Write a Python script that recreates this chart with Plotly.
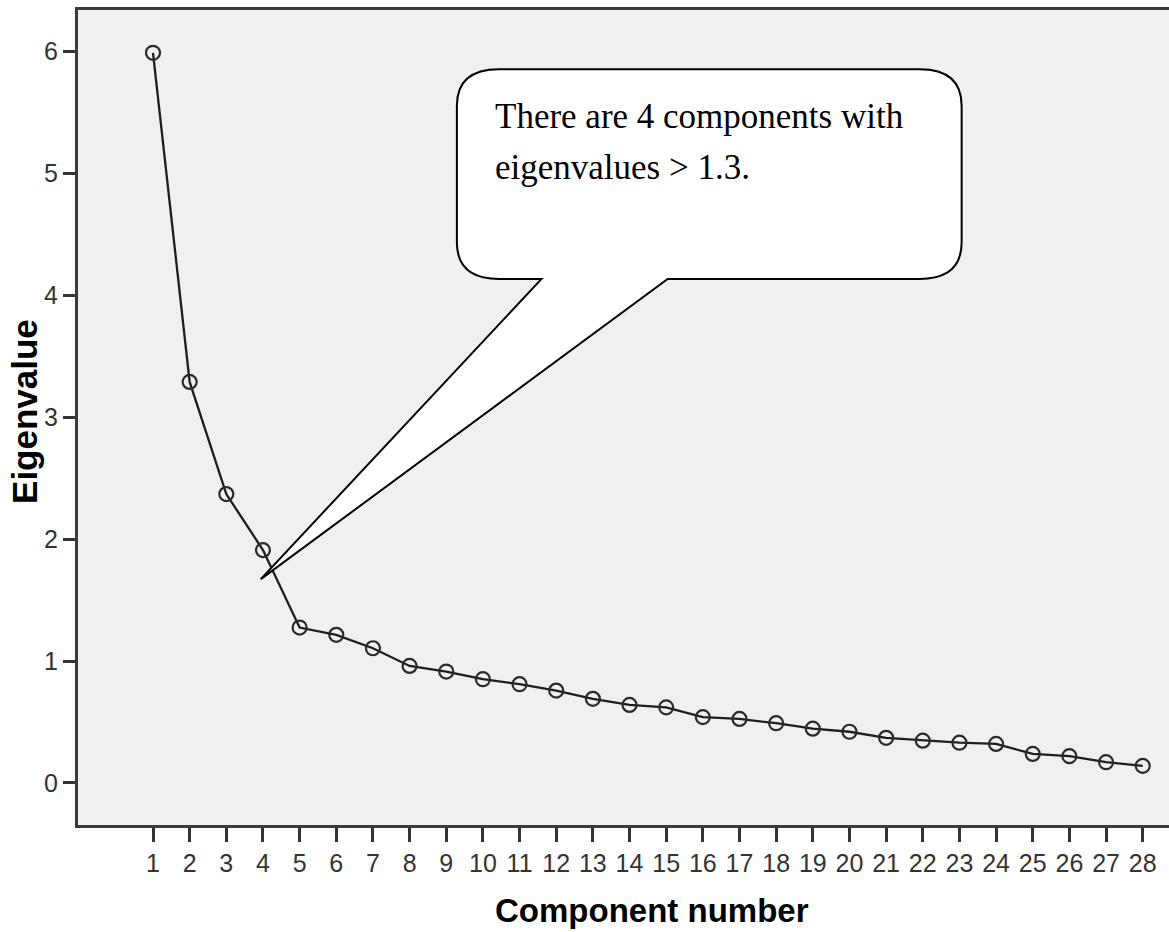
import plotly.graph_objects as go

components = list(range(1, 29))
eigenvalues = [5.99, 3.29, 2.37, 1.91, 1.275, 1.215, 1.105, 0.96, 0.914, 0.851,
               0.81, 0.758, 0.69, 0.64, 0.62, 0.54, 0.525, 0.49, 0.445, 0.42,
               0.37, 0.347, 0.33, 0.32, 0.238, 0.22, 0.17, 0.14]
y_ticks = [0, 1, 2, 3, 4, 5, 6]
callout_lines = ["There are 4 components with", "eigenvalues > 1.3."]

fig = go.Figure()
fig.add_trace(go.Scatter(
    x=components, y=eigenvalues, mode="lines+markers",
    line=dict(color="#1e1e1e", width=2.3),
    marker=dict(symbol="circle-open", size=14, color="#2a2a2a", line=dict(width=2.2)),
    showlegend=False, hoverinfo="skip",
))

# Callout bubble (rounded rectangle with a pointed tail), in data coordinates
L, R, T, B = 9.29, 23.06, 5.854, 4.135
rx, ry = 1.15, 0.30
tail_l, tail_r = 11.6, 15.04
tip_x, tip_y = 3.94, 1.672
path = (f"M {tail_l},{B} L {tip_x},{tip_y} L {tail_r},{B} L {R-rx},{B} "
        f"Q {R},{B} {R},{B+ry} L {R},{T-ry} Q {R},{T} {R-rx},{T} "
        f"L {L+rx},{T} Q {L},{T} {L},{T-ry} L {L},{B+ry} Q {L},{B} {L+rx},{B} Z")
fig.add_shape(type="path", path=path, xref="x", yref="y",
              fillcolor="white", line=dict(color="black", width=2))

serif = "Liberation Serif, Times New Roman, serif"
fig.add_annotation(x=10.28, y=5.464, xref="x", yref="y", text=callout_lines[0],
                   showarrow=False, xanchor="left", yanchor="middle",
                   font=dict(family=serif, size=35, color="black"))
fig.add_annotation(x=10.28, y=5.053, xref="x", yref="y", text=callout_lines[1],
                   showarrow=False, xanchor="left", yanchor="middle",
                   font=dict(family=serif, size=35, color="black"))

sans = "Liberation Sans, Arial, sans-serif"
narrow = "Liberation Sans Narrow, Arial Narrow, Liberation Sans, sans-serif"
fig.add_annotation(x=0.526, y=-0.1055, xref="paper", yref="paper",
                   text="<b>Component number</b>", showarrow=False,
                   xanchor="center", yanchor="middle",
                   font=dict(family=sans, size=33, color="black"))
fig.add_annotation(x=-0.0486, y=0.508, xref="paper", yref="paper",
                   text="<b>Eigenvalue</b>", showarrow=False, textangle=-90,
                   xanchor="center", yanchor="middle",
                   font=dict(family=sans, size=35, color="black"))

fig.update_layout(
    width=1169, height=932,
    margin=dict(l=78, r=0, t=10, b=107),
    paper_bgcolor="white", plot_bgcolor="#f0f0f0",
    xaxis=dict(range=[-1.046, 28.717], tickmode="array", tickvals=components,
               ticktext=[str(c) for c in components],
               showgrid=False, zeroline=False,
               showline=True, mirror=True, linecolor="#3a3a3a", linewidth=3,
               ticks="outside", ticklen=14, tickwidth=2.5, tickcolor="#333",
               tickfont=dict(family=narrow, size=25, color="#333")),
    yaxis=dict(range=[-0.345, 6.341], tickmode="array", tickvals=y_ticks,
               ticktext=[str(v) for v in y_ticks],
               showgrid=False, zeroline=False,
               showline=True, linecolor="#3a3a3a", linewidth=3,
               ticks="outside", ticklen=12, tickwidth=2.5, tickcolor="#333",
               tickfont=dict(family=narrow, size=25, color="#333")),
)

fig.write_html("out.html", config={"displayModeBar": False},
               post_script="document.body.style.margin='0';document.body.style.overflow='hidden';")
